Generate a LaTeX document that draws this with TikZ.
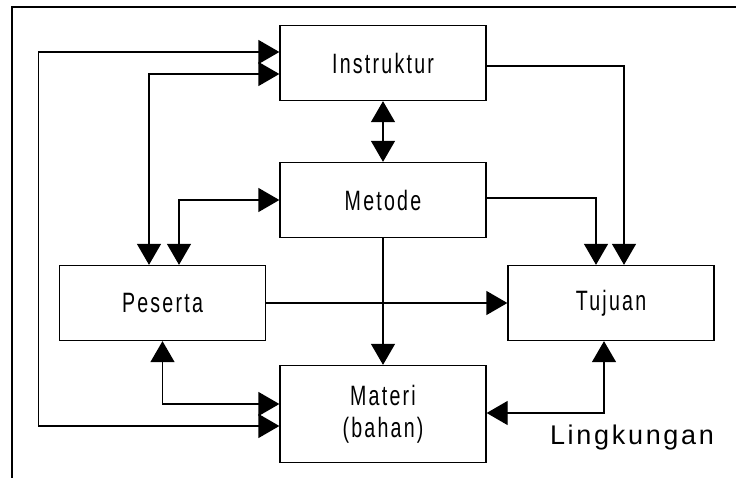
\documentclass[tikz,border=0pt]{standalone}
\usepackage{fontspec}
\setmainfont{Liberation Sans}
\newfontfamily\boxfont[FakeStretch=0.7,LetterSpace=8]{Liberation Sans}
\newfontfamily\labelfont[LetterSpace=10]{Liberation Sans}
\usetikzlibrary{arrows.meta}
\begin{document}
\begin{tikzpicture}[x=1pt,y=1pt,line width=1.3pt,
    box/.style={draw,rectangle,minimum width=206pt,minimum height=75pt,inner sep=0pt,align=center,
        font=\boxfont\fontsize{28}{32}\selectfont},
    link/.style={-{Triangle[length=21pt,width=24pt]}},
    dlink/.style={{Triangle[length=21pt,width=24pt]}-{Triangle[length=21pt,width=24pt]}}]
    \useasboundingbox (0,0) rectangle (736,-478);
    \draw (12,-478) |- (736,-7);

    \node[box] (instruktur) at (383,-63) {Instruktur};
    \node[box] (metode) at (383,-200) {Metode};
    \node[box] (peserta) at (162.5,-303) {Peserta};
    \node[box] (tujuan) at (611,-303) {Tujuan};
    \node[box,minimum height=97pt] (materi) at (383,-414) {Materi\\(bahan)};
    \node[font=\labelfont\fontsize{27}{32}\selectfont] (lingkungan) at (632,-438) {Lingkungan};

    \draw[dlink] ([yshift=11pt]instruktur.west) -- ++(-241,0) |- ([yshift=-12pt]materi.west);
    \draw[dlink] ([yshift=-11pt]instruktur.west) -| ([xshift=-13.5pt]peserta.north);
    \draw[dlink] (metode.west) -| ([xshift=16.5pt]peserta.north);
    \draw[dlink] (peserta.south) |- ([yshift=10pt]materi.west);
    \draw[dlink] (instruktur.south) -- (metode.north);
    \draw[link] ([yshift=-3pt]instruktur.east) -| ([xshift=13pt]tujuan.north);
    \draw[link] ([yshift=2pt]metode.east) -| ([xshift=-15pt]tujuan.north);
    \draw[link] (peserta.east) -- (tujuan.west);
    \draw[link] (metode.south) -- (materi.north);
    \draw[dlink] ([xshift=-7pt]tujuan.south) |- ([yshift=1pt]materi.east);
\end{tikzpicture}
\end{document}
